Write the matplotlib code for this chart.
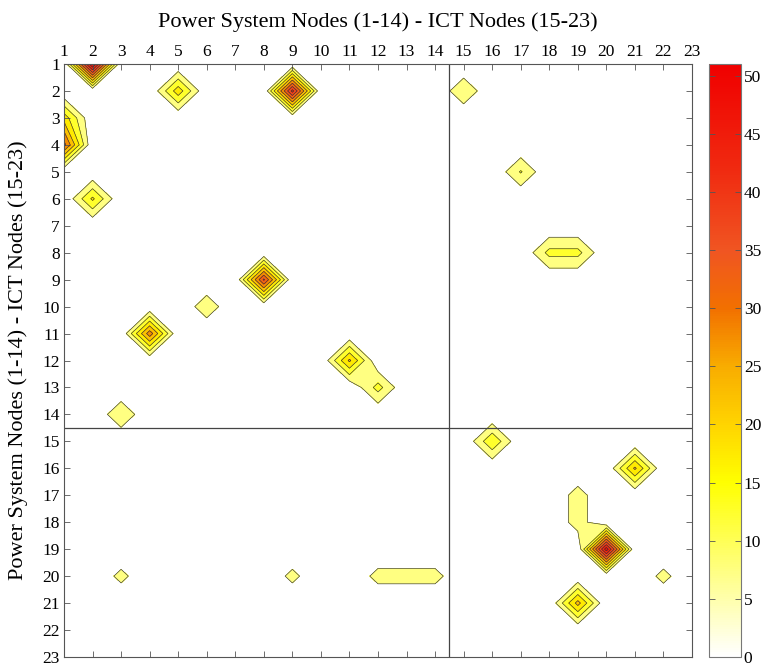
import numpy as np
import matplotlib
matplotlib.use("Agg")
import matplotlib.pyplot as plt
from matplotlib.colors import LinearSegmentedColormap, Normalize
from matplotlib.cm import ScalarMappable

plt.rcParams['font.family'] = ['Liberation Serif', 'DejaVu Serif']

# nonzero cells of the 23x23 interaction matrix (1-based node numbers)
peak_cols = [2, 5, 9, 1, 1, 2, 8, 6, 4, 11, 12, 3,
             15, 17, 18, 19, 16, 21, 19, 19, 20, 22, 19,
             3, 9, 12, 13, 14]
peak_rows = [1, 2, 2, 3, 4, 6, 9, 10, 11, 12, 13, 14,
             2, 5, 8, 8, 15, 16, 17, 18, 19, 20, 21,
             20, 20, 20, 20, 20]
peak_vals = [51, 18, 42, 18, 32, 16, 36, 8.6, 28, 21, 12, 9.6,
             9.6, 10.5, 11.7, 11.7, 14.5, 21, 7.5, 7.5, 48, 6.8, 22,
             6.7, 6.7, 7, 7, 7]

n_nodes = 23
tick_vals = list(range(1, n_nodes + 1))
cbar_ticks = [0, 5, 10, 15, 20, 25, 30, 35, 40, 45, 50]
vmax = 51

Z = np.zeros((n_nodes, n_nodes))
for c, r, v in zip(peak_cols, peak_rows, peak_vals):
    Z[r - 1, c - 1] = v

nodes = np.arange(1, n_nodes + 1)
X, Y = np.meshgrid(nodes, nodes)

cmap = LinearSegmentedColormap.from_list('wyr', [
    (0.0, '#ffffff'),
    (15 / vmax, '#ffff00'),
    (20 / vmax, '#ffd400'),
    (25 / vmax, '#f8ac00'),
    (30 / vmax, '#f27000'),
    (35 / vmax, '#f05522'),
    (42 / vmax, '#f02a10'),
    (1.0, '#f00000'),
])
norm = Normalize(0, vmax)
levels = np.arange(5, 60, 5)

fig = plt.figure(figsize=(7.65, 6.64), dpi=100)
ax = fig.add_axes([64 / 765, 1 - 657 / 664, 628 / 765, 593 / 664])
ax.contourf(X, Y, Z, levels=levels, cmap=cmap, norm=norm)
ax.contour(X, Y, Z, levels=levels[:-1], colors='#333333', linewidths=0.45)

ax.axvline(14.5, color='#444444', lw=0.9)
ax.axhline(14.5, color='#444444', lw=0.9)

ax.set_xlim(1, n_nodes)
ax.set_ylim(n_nodes, 1)
ax.set_xticks(tick_vals)
ax.set_yticks(tick_vals)
ax.xaxis.tick_top()
ax.tick_params(axis='both', direction='in', length=4, width=0.6, color='#555555',
               labelsize=12.5, top=True, bottom=True, left=True, right=True, pad=3)
for s in ax.spines.values():
    s.set_color('#555555')
    s.set_linewidth(0.8)

fig.text(378 / 765, 1 - 22 / 664, 'Power System Nodes (1-14) - ICT Nodes (15-23)',
         ha='center', va='center', fontsize=16)
fig.text(18 / 765, 1 - 360 / 664, 'Power System Nodes (1-14) - ICT Nodes (15-23)',
         ha='center', va='center', rotation=90, fontsize=16)

cax = fig.add_axes([709 / 765, 1 - 657 / 664, 32 / 765, 593 / 664])
sm = ScalarMappable(norm=norm, cmap=cmap)
cb = fig.colorbar(sm, cax=cax)
cb.set_ticks(cbar_ticks)
cb.outline.set_edgecolor('#777777')
cb.outline.set_linewidth(0.8)
cax.tick_params(direction='in', length=4, width=0.6, color='#555555', labelsize=12.5,
                left=True, right=True, pad=2)

fig.savefig('out.png', dpi=100)
